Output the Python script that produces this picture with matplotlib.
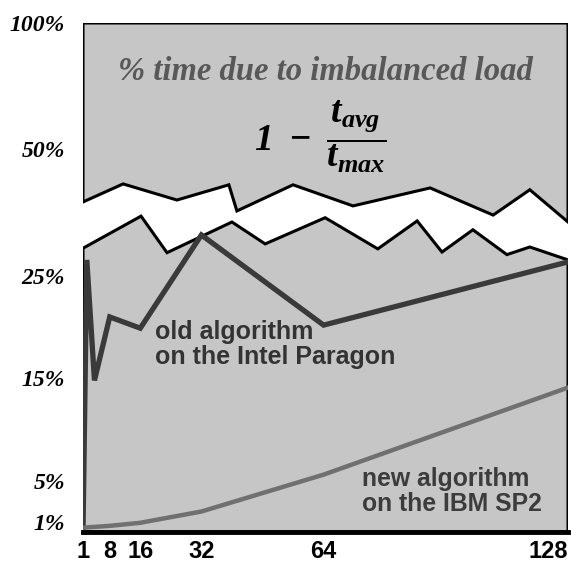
import numpy as np
import matplotlib
matplotlib.use('Agg')
import matplotlib.pyplot as plt

# ---------------- data ----------------
processors = [1, 2, 4, 8, 16, 32, 64, 128]
old_paragon = [0.0, 27.3, 14.8, 21.0, 19.9, 31.3, 20.2, 27.0]   # % imbalance
new_sp2 = [0.4, 0.45, 0.5, 0.6, 0.9, 2.0, 5.6, 14.1]           # % imbalance

# decorative axis-break ("torn") edges
upper_break_x = [1, 11.5, 25.6, 39.2, 41.3, 56.0, 71.7, 91.9, 108.4, 118.0, 128]
upper_break_y = [37.5, 41.4, 37.9, 41.2, 35.7, 41.2, 36.7, 40.5, 34.9, 40.1, 33.6]
lower_break_x = [1, 16.2, 23.0, 40.0, 48.7, 64.4, 78.2, 88.5, 95.0, 103.1, 112.0, 118.0, 128]
lower_break_y = [29.1, 34.7, 28.4, 33.6, 29.8, 34.4, 29.0, 33.8, 28.5, 32.2, 28.1, 29.3, 27.3]

x_ticks = [1, 8, 16, 32, 64, 128]
x_tick_labels = ['1', '8', '16', '32', '64', '128']
y_ticks = [1, 5, 15, 25, 50, 100]
y_tick_labels = ['1%', '5%', '15%', '25%', '50%', '100%']

title_text = '% time due to imbalanced load'
formula_text = r'$1\ -\ \dfrac{t_{avg}}{t_{max}}$'
old_label = 'old algorithm\non the Intel Paragon'
new_label = 'new algorithm\non the IBM SP2'

# ---------------- style ----------------
plt.rcParams['mathtext.fontset'] = 'custom'
plt.rcParams['mathtext.rm'] = 'Liberation Serif:italic:bold'
plt.rcParams['mathtext.it'] = 'Liberation Serif:italic:bold'
plt.rcParams['mathtext.bf'] = 'Liberation Serif:italic:bold'

BG = '#c6c6c6'

fig = plt.figure(figsize=(5.71, 5.63), dpi=100)
ax = fig.add_axes([83 / 571, 31 / 563, 485 / 571, 509 / 563])

# linear below 25 %, logarithmic above (broken axis)
DOUBLING = 12.35


def fwd(y):
    y = np.asarray(y, float)
    with np.errstate(divide='ignore', invalid='ignore'):
        hi = 25 + DOUBLING * np.log2(np.where(y > 0, y, 1) / 25)
    return np.where(y <= 25, y, hi)


def inv(u):
    u = np.asarray(u, float)
    with np.errstate(over='ignore'):
        hi = 25 * np.power(2.0, (u - 25) / DOUBLING)
    return np.where(u <= 25, u, hi)


ax.set_yscale('function', functions=(fwd, inv))
ax.set_xlim(1, 128)
ax.set_ylim(0, 100)

# upper panel (above the break)
top_x = [1] + upper_break_x + [128]
top_y = [100] + upper_break_y + [100]
ax.fill(top_x, top_y, facecolor=BG, edgecolor='black', linewidth=2.2, zorder=1)

# lower panel (below the break)
bot_x = [1] + lower_break_x + [128]
bot_y = [0] + lower_break_y + [0]
ax.fill(bot_x, bot_y, facecolor=BG, edgecolor='black', linewidth=2.2, zorder=1)

ax.axhline(0, color='black', linewidth=3.5, zorder=4, clip_on=False)

# data lines
ax.plot(processors, old_paragon, color='#3a3a3a', linewidth=3.8,
        solid_joinstyle='miter', zorder=3)
ax.plot(processors, new_sp2, color='#707070', linewidth=3.2,
        solid_joinstyle='round', zorder=3)

for s in ax.spines.values():
    s.set_visible(False)

ax.set_xticks(x_ticks)
ax.set_xticklabels(x_tick_labels, fontfamily='Liberation Sans',
                   fontweight='bold', fontsize=17)
ax.set_yticks(y_ticks)
ax.set_yticklabels(y_tick_labels, fontfamily='Liberation Serif',
                   fontweight='bold', fontstyle='italic', fontsize=17)
ax.yaxis.set_minor_locator(matplotlib.ticker.NullLocator())
ax.tick_params(axis='x', length=0, pad=6)
ax.tick_params(axis='y', length=0, pad=13)
ax.get_xticklabels()[-1].set_horizontalalignment('right')

# annotations
ax.text(0.50, 0.905, title_text, transform=ax.transAxes, ha='center',
        va='center', fontsize=23.5, family='Liberation Serif',
        style='italic', weight='bold', color='#585858', zorder=5)
ax.text(0.49, 0.776, formula_text, transform=ax.transAxes, ha='center',
        va='center', fontsize=27, color='black', zorder=5)
ax.text(0.148, 0.368, old_label, transform=ax.transAxes, ha='left',
        va='center', fontsize=18, family='Liberation Sans', weight='bold',
        color='#333333', linespacing=1.08, zorder=5)
ax.text(0.575, 0.080, new_label, transform=ax.transAxes, ha='left',
        va='center', fontsize=17.8, family='Liberation Sans', weight='bold',
        color='#3c3c3c', linespacing=1.08, zorder=5)

fig.savefig('out.png', dpi=100)
